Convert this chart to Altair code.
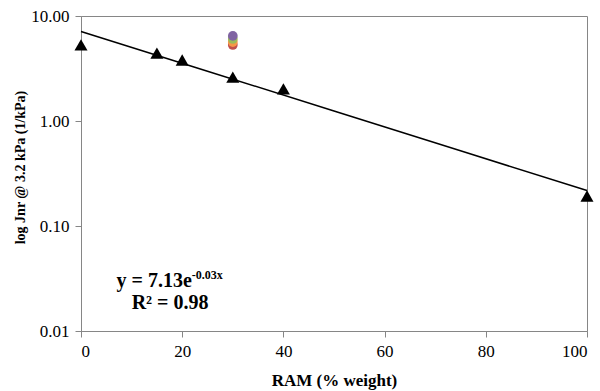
import altair as alt
import pandas as pd

# Jnr at 3.2 kPa against RAM content
ram = [0, 15, 20, 30, 40, 100]
jnr = [5.30, 4.44, 3.81, 2.62, 2.02, 0.193]

# Additional blends at 30 % RAM (drawn bottom to top)
blend_ram = [30, 30, 30, 30]
blend_jnr = [5.30, 5.65, 6.04, 6.46]
blend_name = ["A", "B", "C", "D"]
blend_color = ["#C0504D", "#F79646", "#9BBB59", "#8064A2"]

# Exponential trend line y = a * exp(b * x)
trend_a = 7.13
trend_b = -0.0349
trend_x = [0, 25, 50, 75, 100]

FONT = "Liberation Serif"

points = pd.DataFrame({"ram": ram, "jnr": jnr})
blends = pd.DataFrame({"ram": blend_ram, "jnr": blend_jnr, "name": blend_name,
                       "order": list(range(len(blend_name)))})
trend = pd.DataFrame({"ram": trend_x})

x_scale = alt.Scale(domain=[0, 100], nice=False, zero=False)
y_scale = alt.Scale(type="log", domain=[0.01, 10], nice=False)

x_axis = alt.Axis(
    title="RAM (% weight)", values=[0, 20, 40, 60, 80, 100], format="d",
    grid=False, domainColor="#868686", tickColor="#868686", tickSize=6,
    labelFont=FONT, labelFontSize=17, labelColor="black", labelPadding=6,
    titleFont=FONT, titleFontSize=17, titleFontWeight="bold", titleColor="black",
    titleY=49, titleBaseline="middle",
)
y_axis = alt.Axis(
    title="log Jnr @ 3.2 kPa (1/kPa)", values=[0.01, 0.1, 1, 10], format=".2f",
    grid=False, domainColor="#868686", tickColor="#868686", tickSize=6,
    labelFont=FONT, labelFontSize=17, labelColor="black", labelPadding=6,
    titleFont=FONT, titleFontSize=14, titleFontWeight="bold", titleColor="black",
    titleAngle=-90, titleX=-61, titleY=151, titleAlign="center", titleBaseline="middle",
)

line = alt.Chart(trend).transform_calculate(
    fit=f"{trend_a} * exp({trend_b} * datum.ram)"
).mark_line(color="black", strokeWidth=1.5).encode(
    x=alt.X("ram:Q", scale=x_scale, axis=x_axis),
    y=alt.Y("fit:Q", scale=y_scale, axis=y_axis),
)

tri = alt.Chart(points).mark_point(
    shape="triangle-up", filled=True, color="black", size=170, opacity=1
).encode(x=alt.X("ram:Q", scale=x_scale), y=alt.Y("jnr:Q", scale=y_scale))

dots = alt.Chart(blends).mark_point(filled=True, size=95, opacity=1).encode(
    x=alt.X("ram:Q", scale=x_scale),
    y=alt.Y("jnr:Q", scale=y_scale),
    color=alt.Color("name:N", scale=alt.Scale(domain=blend_name, range=blend_color), legend=None),
    order=alt.Order("order:Q"),
)

# Equation and R² annotation
eq_main = pd.DataFrame({"ram": [21.9], "jnr": [0.0300], "t": ["y = 7.13e"]})
eq_sup = pd.DataFrame({"ram": [21.9], "jnr": [0.0345], "t": ["-0.03x"]})
eq_r2 = pd.DataFrame({"ram": [17.6], "jnr": [0.0186], "t": ["R² = 0.98"]})

txt_main = alt.Chart(eq_main).mark_text(
    font=FONT, fontSize=20, fontWeight="bold", align="right", baseline="middle", color="black"
).encode(x=alt.X("ram:Q", scale=x_scale), y=alt.Y("jnr:Q", scale=y_scale), text="t:N")
txt_sup = alt.Chart(eq_sup).mark_text(
    font=FONT, fontSize=12, fontWeight="bold", align="left", baseline="middle", color="black"
).encode(x=alt.X("ram:Q", scale=x_scale), y=alt.Y("jnr:Q", scale=y_scale), text="t:N")
txt_r2 = alt.Chart(eq_r2).mark_text(
    font=FONT, fontSize=20, fontWeight="bold", align="center", baseline="middle", color="black"
).encode(x=alt.X("ram:Q", scale=x_scale), y=alt.Y("jnr:Q", scale=y_scale), text="t:N")

chart = alt.layer(line, tri, dots, txt_main, txt_sup, txt_r2).properties(
    width=506, height=315,
    autosize=alt.AutoSizeParams(type="none"),
    padding={"left": 81, "top": 16, "right": 13, "bottom": 60},
    background="white",
).configure_view(stroke="#868686", strokeWidth=1)

chart.save("out.html", embed_options={"renderer": "svg", "actions": False})
